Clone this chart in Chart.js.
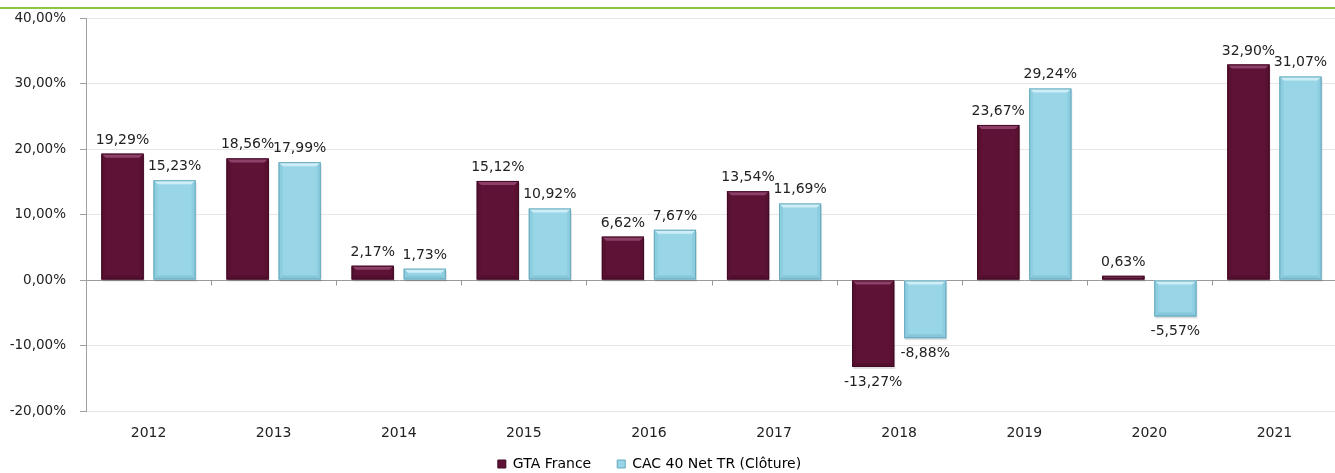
<!DOCTYPE html>
<html>
<head>
<meta charset="utf-8">
<script src="https://cdn.jsdelivr.net/npm/chart.js@4/dist/chart.umd.min.js"></script>
<style>
  html, body { margin: 0; padding: 0; background: #fff; overflow: hidden; }
  #wrap { position: relative; width: 1337px; height: 473px; }
  #topline { position: absolute; left: 0; top: 7px; width: 1337px; height: 2px; background: #8dc63f; }
  canvas { position: absolute; left: 0; top: 0; }
</style>
</head>
<body>
<div id="wrap">
  <canvas id="c" width="1337" height="473"></canvas>
  <div id="topline"></div>
</div>
<script>
const categories = ['2012','2013','2014','2015','2016','2017','2018','2019','2020','2021'];
const gtaFrance = [19.29, 18.56, 2.17, 15.12, 6.62, 13.54, -13.27, 23.67, 0.63, 32.90];
const cac40 = [15.23, 17.99, 1.73, 10.92, 7.67, 11.69, -8.88, 29.24, -5.57, 31.07];
const seriesNames = ['GTA France', 'CAC 40 Net TR (Clôture)'];
const yTicks = [-20, -10, 0, 10, 20, 30, 40];

const FONT = "'DejaVu Sans', Verdana, sans-serif";
const fmt = v => v.toFixed(2).replace('.', ',') + '%';

const palettes = [
  { base: '#5e1236', top: '#8e4068', side: '#581130', bottom: '#520f2d', border: '#420b25' },
  { base: '#98d6e7', top: '#cdeef6', side: '#8ccde0', bottom: '#86c6d9', border: '#6aa9bd' }
];

const bevelPlugin = {
  id: 'bevel',
  afterDatasetsDraw(chart) {
    const ctx = chart.ctx;
    chart.data.datasets.forEach((ds, di) => {
      const meta = chart.getDatasetMeta(di);
      const p = palettes[di];
      meta.data.forEach(bar => {
        const w = bar.width;
        const l = bar.x - w / 2, r = bar.x + w / 2;
        const t = Math.min(bar.y, bar.base), b = Math.max(bar.y, bar.base);
        const h = b - t;
        const bv = Math.min(4, h / 2);
        ctx.save();
        ctx.fillStyle = 'rgba(0,0,0,0.12)';
        ctx.fillRect(l + 1, t + 2, w, h);
        ctx.fillStyle = p.base;
        ctx.fillRect(l, t, w, h);
        ctx.fillStyle = p.top;
        ctx.beginPath();
        ctx.moveTo(l, t); ctx.lineTo(r, t); ctx.lineTo(r - bv, t + bv); ctx.lineTo(l + bv, t + bv); ctx.closePath(); ctx.fill();
        ctx.fillStyle = p.bottom;
        ctx.beginPath();
        ctx.moveTo(l, b); ctx.lineTo(r, b); ctx.lineTo(r - bv, b - bv); ctx.lineTo(l + bv, b - bv); ctx.closePath(); ctx.fill();
        ctx.fillStyle = p.side;
        ctx.beginPath();
        ctx.moveTo(l, t); ctx.lineTo(l + bv, t + bv); ctx.lineTo(l + bv, b - bv); ctx.lineTo(l, b); ctx.closePath(); ctx.fill();
        ctx.beginPath();
        ctx.moveTo(r, t); ctx.lineTo(r - bv, t + bv); ctx.lineTo(r - bv, b - bv); ctx.lineTo(r, b); ctx.closePath(); ctx.fill();
        ctx.strokeStyle = p.border;
        ctx.lineWidth = 1;
        ctx.strokeRect(l + 0.5, t + 0.5, w - 1, h - 1);
        ctx.restore();
      });
    });
  }
};

const labelPlugin = {
  id: 'barLabels',
  afterDatasetsDraw(chart) {
    const ctx = chart.ctx;
    ctx.save();
    ctx.font = '14px ' + FONT;
    ctx.fillStyle = '#222';
    ctx.textAlign = 'center';
    chart.data.datasets.forEach((ds, di) => {
      const meta = chart.getDatasetMeta(di);
      meta.data.forEach((bar, i) => {
        const v = ds.data[i];
        if (v >= 0) {
          ctx.textBaseline = 'alphabetic';
          ctx.fillText(fmt(v), bar.x, bar.y - 10);
        } else {
          ctx.textBaseline = 'top';
          ctx.fillText(fmt(v), bar.x, bar.y + 8);
        }
      });
    });
    ctx.restore();
  }
};

const zeroTicksPlugin = {
  id: 'zeroTicks',
  beforeDatasetsDraw(chart) {
    const ctx = chart.ctx;
    const xs = chart.scales.x, ys = chart.scales.y;
    const y0 = Math.round(ys.getPixelForValue(0)) + 0.5;
    ctx.save();
    ctx.strokeStyle = '#9a9a9a';
    ctx.lineWidth = 1;
    for (let i = 1; i < categories.length; i++) {
      const x = Math.round((xs.getPixelForValue(i - 1) + xs.getPixelForValue(i)) / 2) + 0.5;
      ctx.beginPath(); ctx.moveTo(x, y0); ctx.lineTo(x, y0 + 5); ctx.stroke();
    }
    ctx.restore();
  }
};

const legendShift = {
  id: 'legendShift',
  afterLayout(chart) {
    const lg = chart.legend;
    if (lg) {
      lg.left -= 19; lg.right -= 19;
      lg.top -= 16; lg.height += 16;
    }
  }
};

new Chart(document.getElementById('c'), {
  type: 'bar',
  data: {
    labels: categories,
    datasets: [
      { label: seriesNames[0], data: gtaFrance, backgroundColor: 'rgba(0,0,0,0)', borderColor: palettes[0].border, borderWidth: 1 },
      { label: seriesNames[1], data: cac40, backgroundColor: 'rgba(0,0,0,0)', borderColor: palettes[1].border, borderWidth: 1 }
    ]
  },
  options: {
    responsive: false,
    animation: false,
    devicePixelRatio: 1,
    categoryPercentage: 0.832,
    barPercentage: 0.81,
    layout: { padding: { top: 18, left: 0, right: 0, bottom: 0 } },
    scales: {
      x: {
        grid: { display: false, drawTicks: false },
        border: { display: false },
        ticks: { font: { family: FONT, size: 14 }, color: '#222', padding: 14 },
        afterFit(s) { s.height = 36; }
      },
      y: {
        min: -20, max: 40,
        afterBuildTicks(s) { s.ticks = yTicks.map(v => ({ value: v })); },
        grid: {
          color: c => (c.tick && c.tick.value === 0) ? '#9a9a9a' : '#e6e6e6',
          tickColor: '#a0a0a0',
          tickLength: 6
        },
        border: { color: '#a0a0a0' },
        ticks: { font: { family: FONT, size: 13.5 }, color: '#222', padding: 14, callback: v => fmt(v) },
        afterFit(s) { s.width = 86; s.paddingTop = 0; s.paddingBottom = 0; }
      }
    },
    plugins: {
      legend: {
        position: 'bottom',
        maxHeight: 26,
        labels: {
          font: { family: FONT, size: 14 },
          color: '#222',
          boxWidth: 8,
          boxHeight: 8,
          padding: 26,
          generateLabels: chart => chart.data.datasets.map((ds, i) => ({
            text: ds.label,
            fillStyle: palettes[i].base,
            strokeStyle: palettes[i].border,
            lineWidth: 1,
            datasetIndex: i,
            hidden: false
          }))
        }
      },
      tooltip: { enabled: false }
    }
  },
  plugins: [bevelPlugin, labelPlugin, zeroTicksPlugin, legendShift]
});
</script>
</body>
</html>
